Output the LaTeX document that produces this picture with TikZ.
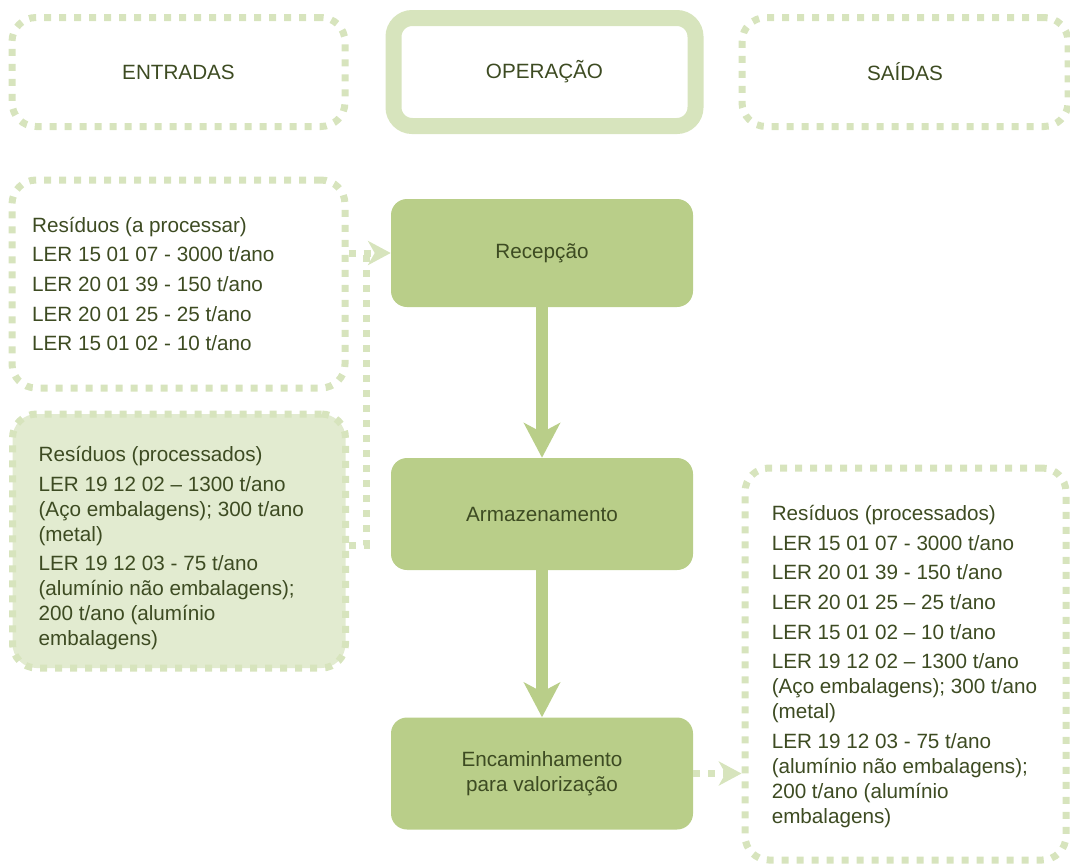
\documentclass[tikz,border=0pt]{standalone}
\usepackage{fontspec}
\setmainfont{Liberation Sans}
\usetikzlibrary{arrows.meta}
\definecolor{dotgreen}{HTML}{D7E4BD}
\definecolor{palegreen}{HTML}{E2EBD0}
\definecolor{boxgreen}{HTML}{B9CE89}
\definecolor{txtgreen}{HTML}{3D4B22}
\tikzset{
  dotbox/.style={draw=dotgreen,line width=5.25pt,dash pattern=on 5.25pt off 6pt,rounded corners=18pt},
  dotline/.style={draw=dotgreen,line width=5.25pt,dash pattern=on 5.25pt off 6pt},
  listtext/.style={anchor=west,align=left,inner sep=0pt},
  opbox/.style={fill=boxgreen,rounded corners=12pt,minimum width=226.5pt,minimum height=84pt,align=center},
  flow/.style={draw=boxgreen,line width=9pt,-{Stealth[length=26pt,width=27pt,inset=7pt]}},
  tip/.style={-{Stealth[length=17pt,width=18pt,inset=5pt]}}
}
\begin{document}
\begin{tikzpicture}[x=0.75pt,y=-0.75pt,
  every node/.style={text=txtgreen,font=\fontsize{15.5}{18.75}\selectfont}]
\useasboundingbox (0,0) rectangle (1070,865);
% column headers
\node[dotbox,minimum width=249.75pt,minimum height=81.75pt] (entradas) at (178.5,72) {ENTRADAS};
\node[draw=dotgreen,line width=12pt,rounded corners=14pt,minimum width=226.5pt,minimum height=81pt] (operacao) at (544.5,72) {OPERAÇÃO};
\node[dotbox,minimum width=244.5pt,minimum height=81.75pt] (saidas) at (905,72) {SAÍDAS};
% entradas
\node[dotbox,minimum width=249.75pt,minimum height=156pt] (aproc) at (178.5,284) {};
\node[listtext] (aproctxt) at ([xshift=17.5pt]aproc.west)
  {Resíduos (a processar)\\[3.5pt]
   LER 15 01 07 - 3000 t/ano\\[3.5pt]
   LER 20 01 39 - 150 t/ano\\[3.5pt]
   LER 20 01 25 - 25 t/ano\\[3.5pt]
   LER 15 01 02 - 10 t/ano};
\node[dotbox,fill=palegreen,minimum width=249.75pt,minimum height=190.5pt] (proc) at (179,541) {};
\node[listtext] (proctxt) at ([xshift=22pt,yshift=-5.5pt]proc.west)
  {Resíduos (processados)\\[3.5pt]
   LER 19 12 02 – 1300 t/ano\\
   (Aço embalagens); 300 t/ano\\
   (metal)\\[3.5pt]
   LER 19 12 03 - 75 t/ano\\
   (alumínio não embalagens);\\
   200 t/ano (alumínio\\
   embalagens)};
% operacao
\node[opbox,minimum height=81pt] (recep) at (542,253) {Recepção};
\node[opbox] (armaz) at (542,514) {Armazenamento};
\node[opbox] (encam) at (542,773.5) {Encaminhamento\\para valorização};
% saidas
\node[dotbox,minimum width=240.75pt,minimum height=294pt] (saida) at (905.5,664) {};
\node[listtext] (saidatxt) at ([xshift=22.5pt,yshift=-2pt]saida.west)
  {Resíduos (processados)\\[3.5pt]
   LER 15 01 07 - 3000 t/ano\\[3.5pt]
   LER 20 01 39 - 150 t/ano\\[3.5pt]
   LER 20 01 25 – 25 t/ano\\[3.5pt]
   LER 15 01 02 – 10 t/ano\\[3.5pt]
   LER 19 12 02 – 1300 t/ano\\
   (Aço embalagens); 300 t/ano\\
   (metal)\\[3.5pt]
   LER 19 12 03 - 75 t/ano\\
   (alumínio não embalagens);\\
   200 t/ano (alumínio\\
   embalagens)};
% connectors
\coordinate (jt) at (366,253);
\coordinate (jb) at (366,545);
\draw[dotline] (proc.east |- jb) -- (jb) -- (jt);
\draw[dotline,tip] (aproc.east |- recep) -- (recep.west);
\draw[flow] (recep) -- (armaz);
\draw[flow] (armaz) -- (encam);
\draw[dotline,tip] (encam.east) -- (saida.west |- encam);
\end{tikzpicture}
\end{document}
